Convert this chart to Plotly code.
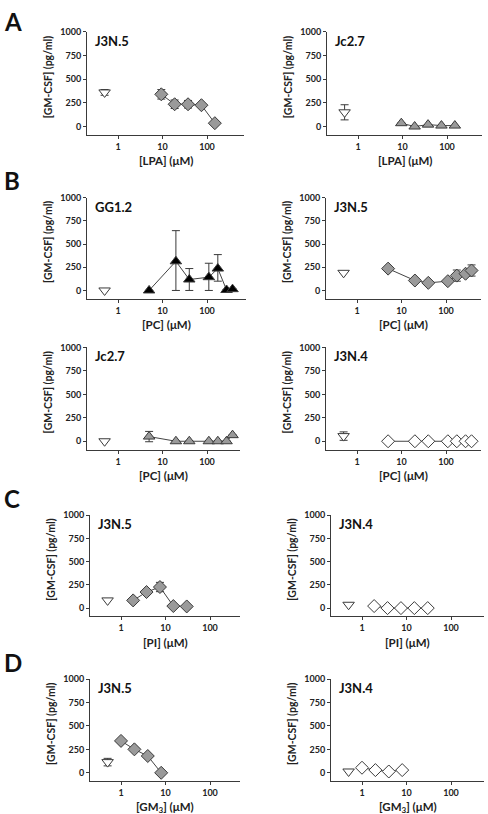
import plotly.graph_objects as go

# ---------------- data ----------------
CTRL_X = 0.5
lpa_conc = [9.4, 18.75, 37.5, 75, 150]
pc_conc = [5, 20, 40, 110, 175, 275, 375]
pi_conc = [1.875, 3.75, 7.5, 15, 30]
gm3_conc = [1, 2, 4, 8]

lpa_j3n5 = [340, 235, 235, 225, 35]
lpa_j3n5_err = [50, 45, 40, 10, 0]
lpa_j3n5_ctrl, lpa_j3n5_ctrl_err = 360, 30

lpa_jc27 = [35, 0, 20, 10, 10]
lpa_jc27_err = [0, 0, 0, 0, 0]
lpa_jc27_ctrl, lpa_jc27_ctrl_err = 150, 80

pc_gg12 = [0, 314, 118, 143, 236, 5, 14]
pc_gg12_err_plus = [0, 330, 118, 150, 150, 0, 0]
pc_gg12_err_minus = [0, 314, 118, 143, 136, 0, 0]
pc_gg12_ctrl, pc_gg12_ctrl_err = 0, 0

pc_j3n5 = [235, 107, 82, 100, 160, 180, 215]
pc_j3n5_err = [0, 0, 0, 0, 60, 20, 60]
pc_j3n5_ctrl, pc_j3n5_ctrl_err = 190, 0

pc_jc27 = [50, 0, 0, 0, 0, 0, 65]
pc_jc27_err = [55, 0, 0, 0, 0, 0, 0]
pc_jc27_ctrl, pc_jc27_ctrl_err = 0, 0

pc_j3n4 = [0, 0, 0, 0, 0, 0, 0]
pc_j3n4_err = [0, 0, 0, 0, 0, 0, 0]
pc_j3n4_ctrl, pc_j3n4_ctrl_err = 55, 45

pi_j3n5 = [83, 173, 227, 22, 18]
pi_j3n5_err = [0, 0, 50, 0, 0]
pi_j3n5_ctrl, pi_j3n5_ctrl_err = 83, 0

pi_j3n4 = [22, 0, 0, 0, 0]
pi_j3n4_err = [0, 0, 0, 0, 0]
pi_j3n4_ctrl, pi_j3n4_ctrl_err = 36, 0

gm3_j3n5 = [340, 250, 179, 0]
gm3_j3n5_err = [0, 0, 0, 0]
gm3_j3n5_ctrl, gm3_j3n5_ctrl_err = 114, 40

gm3_j3n4 = [54, 29, 14, 29]
gm3_j3n4_err = [0, 0, 0, 0]
gm3_j3n4_ctrl, gm3_j3n4_ctrl_err = 14, 0

y_ticks = [0, 250, 500, 750, 1000]
y_ticklabels = ["0", "250", "500", "750", "1000"]
x_ticks = [1, 10, 100]
x_ticklabels = ["1", "10", "100"]
y_title = "[GM-CSF] (pg/ml)"

# ---------------- styles ----------------
W, H = 488, 814
FONT = "Lato"
DARK = "#3a3a3a"
STY = {
    "grey_diamond": dict(symbol="diamond", color="#9a9a9a", size=10),
    "white_diamond": dict(symbol="diamond", color="white", size=10),
    "grey_tri": dict(symbol="triangle-up", color="#9a9a9a", size=10),
    "black_tri": dict(symbol="triangle-up", color="black", size=10),
}

# panels: (name, xtitle, conc, vals, err+, err-, ctrl, ctrl_err, style, x px domain, y px domain(top,bottom))
panels = [
    ("J3N.5", "[LPA] (μM)", lpa_conc, lpa_j3n5, lpa_j3n5_err, None, lpa_j3n5_ctrl, lpa_j3n5_ctrl_err, "grey_diamond", (87, 244), (26, 130)),
    ("Jc2.7", "[LPA] (μM)", lpa_conc, lpa_jc27, lpa_jc27_err, None, lpa_jc27_ctrl, lpa_jc27_ctrl_err, "grey_tri", (327, 482), (26, 130)),
    ("GG1.2", "[PC] (μM)", pc_conc, pc_gg12, pc_gg12_err_plus, pc_gg12_err_minus, pc_gg12_ctrl, pc_gg12_ctrl_err, "black_tri", (87, 246), (193, 295)),
    ("J3N.5", "[PC] (μM)", pc_conc, pc_j3n5, pc_j3n5_err, None, pc_j3n5_ctrl, pc_j3n5_ctrl_err, "grey_diamond", (326, 481), (193, 295)),
    ("Jc2.7", "[PC] (μM)", pc_conc, pc_jc27, pc_jc27_err, None, pc_jc27_ctrl, pc_jc27_ctrl_err, "grey_tri", (87, 240), (344, 447)),
    ("J3N.4", "[PC] (μM)", pc_conc, pc_j3n4, pc_j3n4_err, None, pc_j3n4_ctrl, pc_j3n4_ctrl_err, "white_diamond", (326, 481), (344, 447)),
    ("J3N.5", "[PI] (μM)", pi_conc, pi_j3n5, pi_j3n5_err, None, pi_j3n5_ctrl, pi_j3n5_ctrl_err, "grey_diamond", (90, 240), (513, 615)),
    ("J3N.4", "[PI] (μM)", pi_conc, pi_j3n4, pi_j3n4_err, None, pi_j3n4_ctrl, pi_j3n4_ctrl_err, "white_diamond", (331, 484), (513, 615)),
    ("J3N.5", "[GM<sub>3</sub>] (μM)", gm3_conc, gm3_j3n5, gm3_j3n5_err, None, gm3_j3n5_ctrl, gm3_j3n5_ctrl_err, "grey_diamond", (90, 240), (678, 781)),
    ("J3N.4", "[GM<sub>3</sub>] (μM)", gm3_conc, gm3_j3n4, gm3_j3n4_err, None, gm3_j3n4_ctrl, gm3_j3n4_ctrl_err, "white_diamond", (331, 484), (678, 781)),
]

YMIN, YMAX = -90, 1000
fig = go.Figure()
annotations = []
layout = {}

for i, (name, xt, conc, vals, ep, em, ctrl, cerr, sty, (x0, x1), (ytop, ybot)) in enumerate(panels):
    k = "" if i == 0 else str(i + 1)
    xa, ya = "x" + k, "y" + k
    # log range: tick "1" ~31px right of the y axis, ~44.5 px per decade
    lo = -31.0 / 44.5
    hi = lo + (x1 - x0) / 44.5
    layout["xaxis" + k] = dict(
        domain=[x0 / W, x1 / W], anchor=ya, type="log", range=[lo, hi],
        tickvals=x_ticks, ticktext=["<b>" + t + "</b>" for t in x_ticklabels],
        ticks="outside", ticklen=3,
        tickwidth=1, tickcolor=DARK, showline=True, linecolor=DARK, linewidth=1,
        showgrid=False, zeroline=False, fixedrange=True,
        tickfont=dict(family=FONT, size=9, color="#222"),
    )
    layout["yaxis" + k] = dict(
        domain=[1 - ybot / H, 1 - ytop / H], anchor=xa, range=[YMIN, YMAX],
        tickvals=y_ticks, ticktext=["<b>" + t + "</b>" for t in y_ticklabels],
        ticks="outside", ticklen=3, tickwidth=1, tickcolor=DARK,
        showline=True, linecolor=DARK, linewidth=1, showgrid=False, zeroline=False,
        fixedrange=True,
        tickfont=dict(family=FONT, size=9, color="#222"),
    )
    m = STY[sty]
    err = dict(type="data", array=ep, visible=True, color=DARK, thickness=1, width=4)
    if em is not None:
        err["symmetric"] = False
        err["arrayminus"] = em
    fig.add_trace(go.Scatter(
        x=conc, y=vals, xaxis=xa, yaxis=ya, mode="lines+markers",
        line=dict(color="#444", width=1),
        marker=dict(symbol=m["symbol"], color=m["color"], size=m["size"],
                    line=dict(color=DARK, width=1)),
        error_y=err, showlegend=False, cliponaxis=False,
    ))
    fig.add_trace(go.Scatter(
        x=[CTRL_X], y=[ctrl], xaxis=xa, yaxis=ya, mode="markers",
        marker=dict(symbol="triangle-down", color="white", size=10,
                    line=dict(color=DARK, width=1)),
        error_y=dict(type="data", array=[cerr], visible=cerr > 0, color=DARK,
                     thickness=1, width=4),
        showlegend=False, cliponaxis=False,
    ))
    # cell line label
    annotations.append(dict(text="<b>" + name + "</b>", x=(x0 + 6) / W, y=1 - (ytop + 9) / H,
                            xref="paper", yref="paper", xanchor="left", yanchor="middle",
                            showarrow=False, font=dict(family=FONT, size=13, color="#111")))
    # y title
    y0px = ytop + (ybot - ytop) * 1000 / (YMAX - YMIN)
    annotations.append(dict(text="<b>" + y_title + "</b>", x=(x0 - 39) / W,
                            y=1 - ((ytop + y0px) / 2 - 2) / H, xref="paper", yref="paper",
                            xanchor="center", yanchor="middle", textangle=-90, showarrow=False,
                            font=dict(family=FONT, size=10.5, color="#222")))
    # x title
    annotations.append(dict(text="<b>" + xt + "</b>", x=(x0 + x1) / 2 / W, y=1 - (ybot + 26) / H,
                            xref="paper", yref="paper", xanchor="center", yanchor="middle",
                            showarrow=False, font=dict(family=FONT, size=11.5, color="#222")))

for letter, py in [("A", 16), ("B", 176), ("C", 496), ("D", 661)]:
    annotations.append(dict(text="<b>" + letter + "</b>", x=2 / W, y=1 - py / H,
                            xref="paper", yref="paper", xanchor="left", yanchor="middle",
                            showarrow=False, font=dict(family=FONT, size=24, color="#111")))

fig.update_layout(
    width=W, height=H, margin=dict(l=0, r=0, t=0, b=0),
    paper_bgcolor="white", plot_bgcolor="white", hovermode=False,
    annotations=annotations, showlegend=False, **layout,
)
fig.write_html("out.html", config={"displayModeBar": False, "staticPlot": True},
               post_script="document.body.style.margin='0';document.body.style.padding='0';")
